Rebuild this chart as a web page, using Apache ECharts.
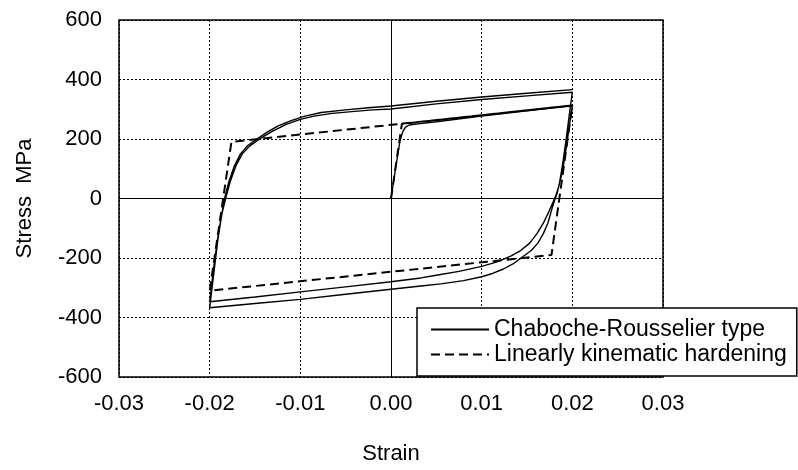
<!DOCTYPE html>
<html>
<head>
<meta charset="utf-8">
<script src="https://cdn.jsdelivr.net/npm/echarts@6/dist/echarts.min.js"></script>
<style>
html,body{margin:0;padding:0;background:#fff;}
#chart{width:798px;height:470px;}
</style>
</head>
<body>
<div id="chart"></div>
<script>
// Axis ticks
const xTicks = [-0.03, -0.02, -0.01, 0.00, 0.01, 0.02, 0.03];
const yTicks = [-600, -400, -200, 0, 200, 400, 600];

// Series names
const seriesNames = ['Chaboche-Rousselier type', 'Linearly kinematic hardening'];

// Chaboche-Rousselier type: [strain, stress MPa]
const crInitial = [[0,0],[0.0005,100],[0.001,195],[0.0013,225],[0.0016,240],[0.002,247],[0.003,251],[0.005,258],[0.01,277],[0.015,295],[0.02,312]];
const crUnload1 = [[0.0197,250],[0.0193,165],[0.0189,90],[0.0185,40],[0.0182,12],[0.0179,-10],[0.0174,-45],[0.0168,-83],[0.0161,-118],[0.0153,-150],[0.0143,-175],[0.0132,-194],[0.0117,-213],[0.01,-228],[0.0075,-245],[0.005,-258],[0.0033,-267],[0,-280],[-0.005,-297],[-0.01,-314],[-0.015,-331],[-0.02,-347]];
const crReload1 = [[-0.0195,-220],[-0.019,-110],[-0.0186,-45],[-0.0182,5],[-0.0177,60],[-0.0171,110],[-0.0164,150],[-0.0156,176],[-0.0146,198],[-0.0138,213],[-0.013,227],[-0.0115,250],[-0.01,266],[-0.0085,277],[-0.0065,286],[-0.004,293],[-0.002,298],[0,301],[0.005,318],[0.01,333],[0.015,345],[0.02,357]];
const crUnload2 = [[0.0197,290],[0.0193,195],[0.0189,110],[0.0186,55],[0.0183,15],[0.018,-10],[0.0177,-40],[0.0173,-83],[0.0168,-118],[0.0162,-150],[0.0155,-174],[0.0146,-194],[0.0136,-217],[0.0124,-237],[0.0112,-252],[0.01,-263],[0.008,-276],[0.0055,-287],[0.0033,-294],[0,-305],[-0.005,-322],[-0.01,-339],[-0.015,-353],[-0.02,-367]];
const crReload2 = [[-0.0195,-240],[-0.0191,-140],[-0.0187,-60],[-0.0184,-5],[-0.0179,55],[-0.0173,108],[-0.0166,150],[-0.0158,178],[-0.0148,200],[-0.0137,222],[-0.0125,243],[-0.0111,261],[-0.0096,276],[-0.0077,289],[-0.005,298],[-0.0025,305],[0,311],[0.005,327],[0.01,341],[0.015,354],[0.02,366]];

// Linearly kinematic hardening: [strain, stress MPa]
const lkhPath = [[0,0],[0.0012,251],[0.02,313],[0.0177,-190],[-0.02,-310],[-0.0176,190],[0.02,313]];

const crPath = [].concat(crInitial, crUnload1, crReload1, crUnload2, crReload2);

const FONT = 'Liberation Sans, Arial, Helvetica, sans-serif';
const chart = echarts.init(document.getElementById('chart'), null, {renderer:'canvas'});

chart.setOption({
  animation: false,
  backgroundColor: '#fff',
  grid: {
    left: 119, right: 135, top: 20, bottom: 90,
    show: true, borderColor: '#000', borderWidth: 1.5, backgroundColor: 'transparent'
  },
  legend: {
    orient: 'vertical',
    left: 417, top: 308,
    padding: [10, 10, 10, 13],
    itemGap: 2,
    itemWidth: 58, itemHeight: 14,
    backgroundColor: '#fff',
    borderColor: '#000', borderWidth: 1.5, borderRadius: 0,
    itemStyle: {opacity: 0, color: 'transparent', borderWidth: 0},
    textStyle: {fontFamily: FONT, fontSize: 23, color: '#000'},
    data: seriesNames
  },
  xAxis: {
    type: 'value',
    min: xTicks[0], max: xTicks[xTicks.length-1], interval: 0.01,
    name: 'Strain', nameLocation: 'middle', nameGap: 66,
    nameTextStyle: {fontFamily: FONT, fontSize: 22, color: '#000'},
    axisLine: {show: false, onZero: false},
    axisTick: {show: false},
    axisLabel: {fontFamily: FONT, fontSize: 22, color: '#000', margin: 16,
      formatter: v => (Math.abs(v) < 1e-9 ? 0 : v).toFixed(2)},
    splitLine: {show: true, lineStyle: {color: '#000', width: 1, type: [2, 2]}}
  },
  yAxis: {
    type: 'value',
    min: yTicks[0], max: yTicks[yTicks.length-1], interval: 200,
    name: 'Stress  MPa', nameLocation: 'middle', nameGap: 83,
    nameTextStyle: {fontFamily: FONT, fontSize: 22, color: '#000'},
    axisLine: {show: false, onZero: false},
    axisTick: {show: false},
    axisLabel: {fontFamily: FONT, fontSize: 22, color: '#000', margin: 17},
    splitLine: {show: true, lineStyle: {color: '#000', width: 1, type: [2, 2]}}
  },
  series: [
    {
      name: seriesNames[0],
      type: 'line',
      data: crPath,
      symbol: 'none',
      showSymbol: false,
      smooth: false,
      lineStyle: {color: '#000', width: 1.4, type: 'solid'},
      itemStyle: {color: '#000'},
      z: 3,
      markLine: {
        silent: true,
        symbol: 'none',
        label: {show: false},
        lineStyle: {color: '#000', width: 1, type: 'solid'},
        data: [{xAxis: 0}, {yAxis: 0}]
      }
    },
    {
      name: seriesNames[1],
      type: 'line',
      data: lkhPath,
      symbol: 'none',
      showSymbol: false,
      lineStyle: {color: '#000', width: 2, type: [9, 5]},
      itemStyle: {color: '#000'},
      z: 4
    }
  ]
});
</script>
</body>
</html>
